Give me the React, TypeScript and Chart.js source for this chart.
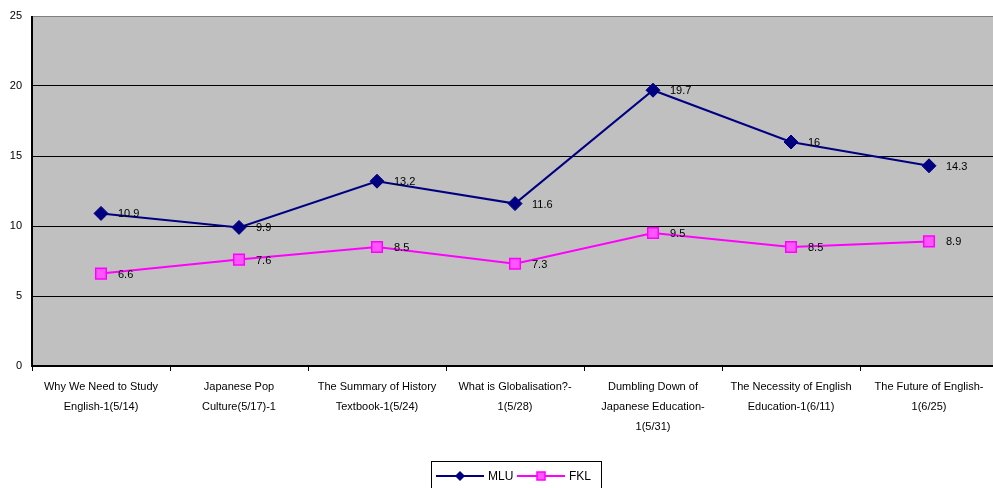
import React, { useEffect, useRef } from "react";
import { Chart, registerables } from "chart.js";

Chart.register(...registerables);

const categories: string[][] = [
  ["Why We Need to Study", "English-1(5/14)"],
  ["Japanese Pop", "Culture(5/17)-1"],
  ["The Summary of History", "Textbook-1(5/24)"],
  ["What is Globalisation?-", "1(5/28)"],
  ["Dumbling Down of", "Japanese Education-", "1(5/31)"],
  ["The Necessity of English", "Education-1(6/11)"],
  ["The Future of English-", "1(6/25)"],
];

const mluValues = [10.9, 9.9, 13.2, 11.6, 19.7, 16, 14.3];
const fklValues = [6.6, 7.6, 8.5, 7.3, 9.5, 8.5, 8.9];
const yTicks = [0, 5, 10, 15, 20, 25];

const FONT = "'Liberation Sans', Arial, sans-serif";
const NAVY = "#000080";
const MAGENTA = "#FF00FF";

// The plot runs a few pixels past the right edge of the canvas
const PLOT_OVERHANG = 5;

const extendRight = {
  id: "extendRight",
  afterLayout(chart: any) {
    const x = chart.scales.x;
    chart.chartArea.right += PLOT_OVERHANG;
    chart.chartArea.width += PLOT_OVERHANG;
    x.right += PLOT_OVERHANG;
    x.width += PLOT_OVERHANG;
    x.configure();
    const y = chart.scales.y;
    y.configure();
  },
};

// Numeric value written just to the right of each marker
const valueLabels = {
  id: "valueLabels",
  afterDatasetsDraw(chart: any) {
    const ctx = chart.ctx;
    ctx.save();
    ctx.font = `11px ${FONT}`;
    ctx.fillStyle = "#000";
    ctx.textAlign = "left";
    ctx.textBaseline = "middle";
    chart.data.datasets.forEach((ds: any, i: number) => {
      const meta = chart.getDatasetMeta(i);
      meta.data.forEach((pt: any, j: number) => {
        ctx.fillText(String(ds.data[j]), pt.x + 17, pt.y + 1);
      });
    });
    ctx.restore();
  },
};

// Plot frame: light top edge, heavy left and bottom axes
const frame = {
  id: "frame",
  beforeDatasetsDraw(chart: any) {
    const { ctx, chartArea: a } = chart;
    ctx.save();
    ctx.strokeStyle = "#808080";
    ctx.lineWidth = 1;
    ctx.beginPath();
    ctx.moveTo(a.left, a.top + 0.5);
    ctx.lineTo(a.right, a.top + 0.5);
    ctx.stroke();
    ctx.strokeStyle = "#000";
    ctx.lineWidth = 2;
    ctx.beginPath();
    ctx.moveTo(a.left, a.top);
    ctx.lineTo(a.left, a.bottom);
    ctx.lineTo(a.right, a.bottom);
    ctx.stroke();
    ctx.restore();
  },
};

// Boxed legend under the axis, each entry a line with its marker
const boxedLegend = {
  id: "boxedLegend",
  afterDraw(chart: any) {
    const ctx = chart.ctx;
    const boxX = 431;
    const boxY = 461.5;
    const boxW = 170;
    const boxH = 30;
    ctx.save();
    ctx.strokeStyle = "#000";
    ctx.lineWidth = 1;
    ctx.strokeRect(boxX + 0.5, boxY, boxW, boxH);
    ctx.font = `12px ${FONT}`;
    ctx.textBaseline = "middle";
    ctx.textAlign = "left";
    const cy = 476;
    const entries = [
      { label: chart.data.datasets[0].label, x: 436, color: NAVY, shape: "diamond" },
      { label: chart.data.datasets[1].label, x: 517, color: MAGENTA, shape: "square" },
    ];
    entries.forEach((e) => {
      ctx.strokeStyle = e.color;
      ctx.lineWidth = 2;
      ctx.beginPath();
      ctx.moveTo(e.x, cy);
      ctx.lineTo(e.x + 48, cy);
      ctx.stroke();
      const mx = e.x + 24;
      if (e.shape === "diamond") {
        ctx.fillStyle = NAVY;
        ctx.beginPath();
        ctx.moveTo(mx, cy - 5);
        ctx.lineTo(mx + 5, cy);
        ctx.lineTo(mx, cy + 5);
        ctx.lineTo(mx - 5, cy);
        ctx.closePath();
        ctx.fill();
      } else {
        ctx.fillStyle = "#FF55FF";
        ctx.fillRect(mx - 4, cy - 4, 8, 8);
        ctx.strokeStyle = MAGENTA;
        ctx.lineWidth = 1.5;
        ctx.strokeRect(mx - 4, cy - 4, 8, 8);
      }
      ctx.fillStyle = "#000";
      ctx.fillText(e.label, e.x + 52, cy + 1);
    });
    ctx.restore();
  },
};

export default function App() {
  const ref = useRef<HTMLCanvasElement>(null);

  useEffect(() => {
    if (!ref.current) return;
    const chart = new Chart(ref.current, {
      type: "line",
      data: {
        labels: categories,
        datasets: [
          {
            label: "MLU",
            data: mluValues,
            borderColor: NAVY,
            backgroundColor: NAVY,
            borderWidth: 2,
            pointStyle: "rectRot",
            pointRadius: 7,
            pointBorderWidth: 1,
            pointBorderColor: NAVY,
            pointBackgroundColor: NAVY,
            tension: 0,
          },
          {
            label: "FKL",
            data: fklValues,
            borderColor: MAGENTA,
            backgroundColor: MAGENTA,
            borderWidth: 2,
            pointStyle: "rect",
            pointRadius: 7.5,
            pointBorderWidth: 1.5,
            pointBorderColor: MAGENTA,
            pointBackgroundColor: "#FF55FF",
            tension: 0,
          },
        ],
      },
      options: {
        responsive: false,
        animation: false,
        layout: { padding: { top: 16, right: 0, left: 0, bottom: 0 }, autoPadding: false },
        plugins: {
          legend: { display: false },
          tooltip: { enabled: false },
        },
        scales: {
          x: {
            offset: true,
            grid: {
              offset: true,
              drawOnChartArea: false,
              drawTicks: true,
              tickLength: 5,
              color: "#000",
              lineWidth: 1,
            },
            border: { display: false },
            ticks: {
              color: "#000",
              font: { family: FONT, size: 11, lineHeight: 1.8 },
              maxRotation: 0,
              autoSkip: false,
              padding: 6,
            },
            afterFit(scale: any) {
              scale.height = 122;
              scale.paddingLeft = 0;
              scale.paddingRight = 0;
            },
          },
          y: {
            min: 0,
            max: 25,
            afterBuildTicks(scale: any) {
              scale.ticks = yTicks.map((v) => ({ value: v }));
            },
            grid: {
              color: (c: any) => (c.tick && c.tick.value === 25 ? "rgba(0,0,0,0)" : "#000"),
              lineWidth: 1,
              drawTicks: false,
            },
            border: { display: false },
            ticks: {
              color: "#000",
              font: { family: FONT, size: 11 },
              padding: 10,
            },
            afterFit(scale: any) {
              scale.width = 32;
              scale.paddingTop = 0;
              scale.paddingBottom = 0;
            },
          },
        },
      },
      plugins: [
        extendRight,
        {
          id: "plotBg",
          beforeDraw(c: any) {
            const { ctx, chartArea: a } = c;
            ctx.save();
            ctx.fillStyle = "#C0C0C0";
            ctx.fillRect(a.left, a.top, a.right - a.left, a.bottom - a.top);
            ctx.restore();
          },
        },
        frame,
        valueLabels,
        boxedLegend,
      ],
    });
    return () => chart.destroy();
  }, []);

  return (
    <canvas
      ref={ref}
      width={993}
      height={488}
      style={{ position: "fixed", left: 0, top: 0, background: "#fff" }}
    />
  );
}
